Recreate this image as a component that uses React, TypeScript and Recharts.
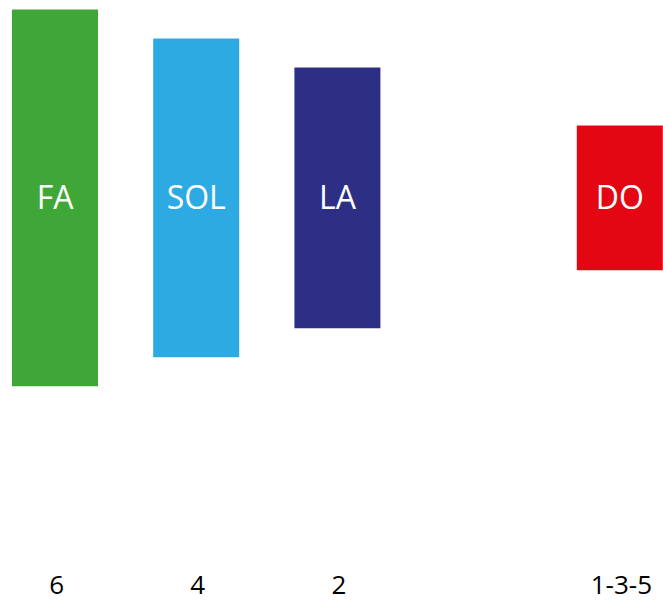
import { BarChart, Bar, XAxis, YAxis, Cell, LabelList } from 'recharts';

const categories = ['6', '4', '2', '', '1-3-5'];
const notes = ['FA', 'SOL', 'LA', '', 'DO'];
const lows = [-13, -11, -9, null, -5];
const highs = [13, 11, 9, null, 5];
const colors = ['#3EA738', '#2EAAE2', '#2D2F84', '#ffffff', '#E30613'];

const data = categories.map((cat, i) => ({
  cat,
  note: notes[i],
  range: lows[i] === null ? null : [lows[i], highs[i]],
}));

const App = () => {
  return (
    <div
      style={{
        position: 'absolute',
        left: 0,
        top: 0,
        width: 663,
        height: 602,
        overflow: 'hidden',
        background: '#fff',
        fontFamily: 'Open Sans',
      }}
    >
      <div style={{ position: 'absolute', left: -15.6, top: 0 }}>
        <BarChart
          width={706}
          height={602}
          data={data}
          margin={{ top: 0, right: 0, left: 0, bottom: 0 }}
          barSize={86}
        >
          <XAxis
            dataKey="cat"
            height={42}
            axisLine={false}
            tickLine={false}
            tickMargin={10}
            interval={0}
            tick={{ fontSize: 26, fill: '#000', fontFamily: 'Open Sans', dx: 2 }}
          />
          <YAxis hide domain={[-25, 13.66]} />
          <Bar dataKey="range" isAnimationActive={false}>
            {data.map((entry, index) => (
              <Cell key={`cell-${index}`} fill={colors[index]} />
            ))}
            <LabelList
              dataKey="note"
              position="center"
              fill="#fff"
              fontSize={32}
              fontFamily="Open Sans"
            />
          </Bar>
        </BarChart>
      </div>
    </div>
  );
};

export default App;
